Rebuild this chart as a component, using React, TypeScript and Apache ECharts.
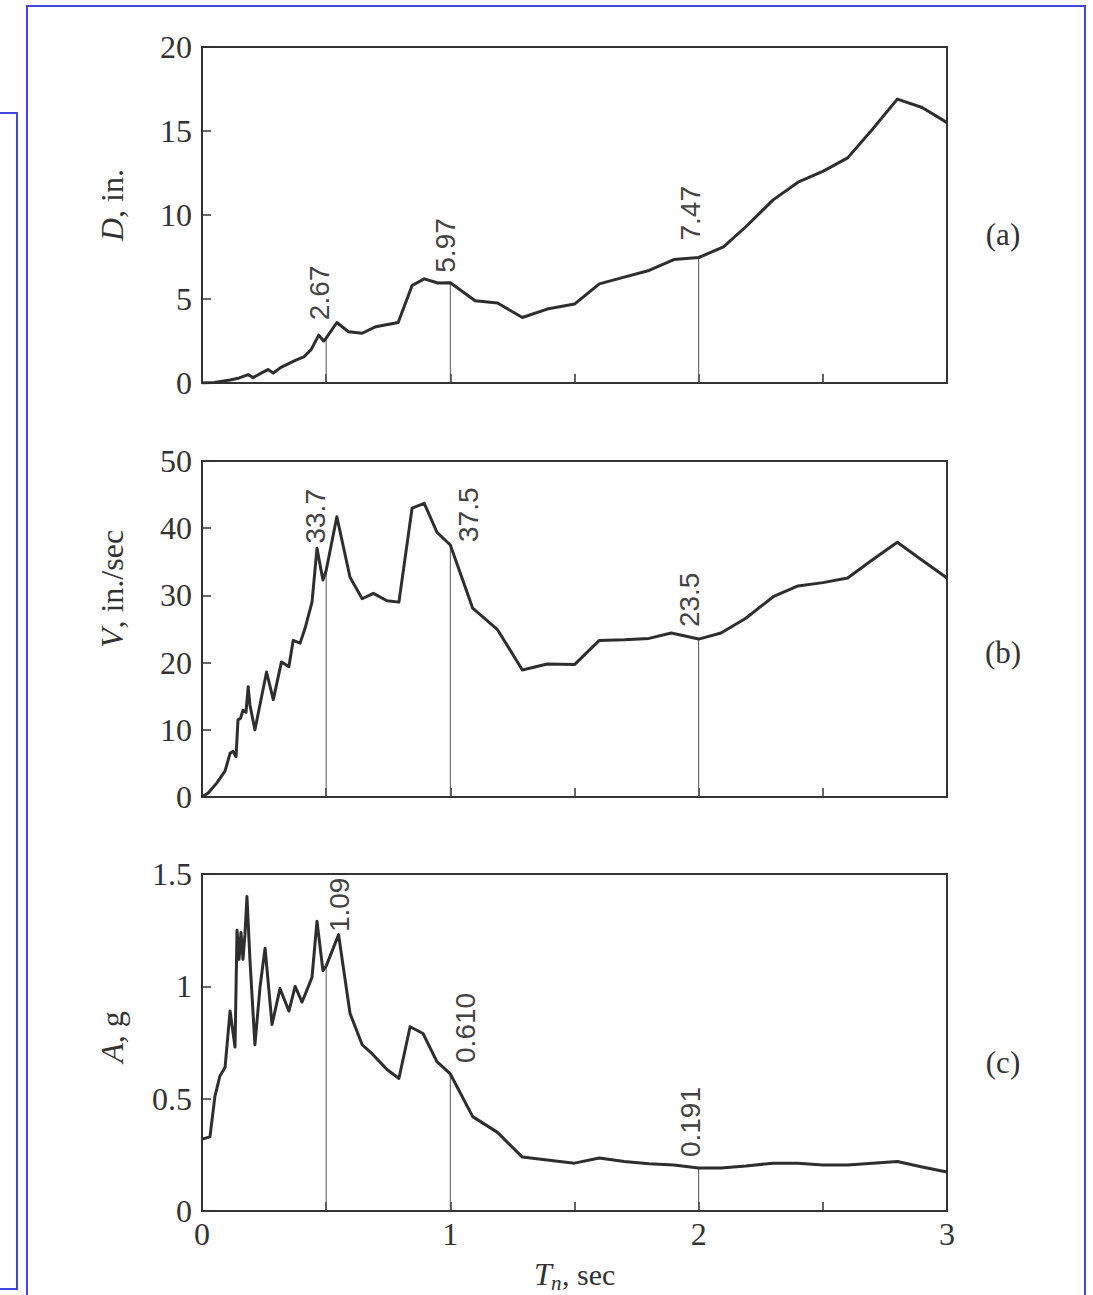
import React, { useEffect, useRef } from "react";
import * as echarts from "echarts";

// ---------- data ----------
const D_T = [0, 0.05, 0.113, 0.15, 0.186, 0.206, 0.24, 0.266, 0.287, 0.32, 0.355, 0.38, 0.41, 0.44, 0.47, 0.49, 0.5, 0.543, 0.59, 0.645, 0.7, 0.79, 0.846, 0.895, 0.95, 1.0, 1.1, 1.19, 1.29, 1.39, 1.5, 1.6, 1.7, 1.8, 1.9, 2.0, 2.1, 2.19, 2.3, 2.4, 2.5, 2.6, 2.7, 2.8, 2.9, 3.0];
const D_VAL = [0, 0.03, 0.18, 0.3, 0.5, 0.32, 0.6, 0.8, 0.6, 0.95, 1.2, 1.37, 1.55, 2.0, 2.85, 2.5, 2.67, 3.6, 3.05, 2.96, 3.35, 3.6, 5.8, 6.2, 5.95, 5.97, 4.9, 4.76, 3.9, 4.4, 4.7, 5.9, 6.3, 6.7, 7.35, 7.47, 8.1, 9.3, 10.9, 11.95, 12.6, 13.4, 15.1, 16.9, 16.4, 15.5];

const V_T = [0, 0.025, 0.06, 0.093, 0.113, 0.125, 0.137, 0.145, 0.155, 0.165, 0.177, 0.186, 0.193, 0.213, 0.26, 0.287, 0.32, 0.35, 0.367, 0.395, 0.415, 0.443, 0.463, 0.487, 0.5, 0.543, 0.596, 0.645, 0.69, 0.745, 0.793, 0.846, 0.895, 0.946, 1.0, 1.09, 1.19, 1.29, 1.39, 1.5, 1.6, 1.7, 1.8, 1.89, 2.0, 2.09, 2.19, 2.3, 2.4, 2.5, 2.6, 2.7, 2.8, 2.89, 3.0];
const V_VAL = [0, 0.6, 2.1, 3.9, 6.5, 6.8, 6.0, 11.5, 11.7, 12.9, 12.6, 16.4, 13.7, 10.0, 18.6, 14.5, 20.1, 19.4, 23.3, 22.9, 25.1, 29.0, 37.0, 32.3, 33.7, 41.7, 32.7, 29.5, 30.3, 29.2, 29.0, 43.0, 43.7, 39.4, 37.5, 28.1, 24.9, 18.9, 19.8, 19.7, 23.3, 23.4, 23.6, 24.4, 23.5, 24.4, 26.6, 29.8, 31.4, 31.9, 32.6, 35.3, 37.9, 35.5, 32.6];

const A_T = [0, 0.032, 0.052, 0.072, 0.093, 0.113, 0.133, 0.141, 0.149, 0.157, 0.165, 0.173, 0.181, 0.193, 0.213, 0.234, 0.254, 0.282, 0.314, 0.35, 0.375, 0.403, 0.443, 0.463, 0.487, 0.5, 0.55, 0.596, 0.645, 0.685, 0.745, 0.793, 0.838, 0.89, 0.946, 1.0, 1.09, 1.19, 1.29, 1.39, 1.5, 1.6, 1.7, 1.8, 1.9, 2.0, 2.09, 2.19, 2.3, 2.4, 2.5, 2.6, 2.7, 2.8, 2.9, 3.0];
const A_VAL = [0.32, 0.33, 0.51, 0.6, 0.64, 0.89, 0.73, 1.25, 1.12, 1.24, 1.12, 1.23, 1.4, 1.12, 0.74, 1.0, 1.17, 0.83, 0.99, 0.89, 1.0, 0.93, 1.04, 1.29, 1.07, 1.09, 1.23, 0.88, 0.74, 0.7, 0.63, 0.59, 0.82, 0.79, 0.665, 0.61, 0.42, 0.35, 0.24, 0.227, 0.213, 0.236, 0.22, 0.21, 0.205, 0.191, 0.191, 0.2, 0.213, 0.213, 0.205, 0.205, 0.213, 0.22, 0.196, 0.174];

const REF_T = [0.5, 1, 2];
const REF_D = [2.67, 5.97, 7.47];
const REF_V = [33.7, 37.5, 23.5];
const REF_A = [1.09, 0.61, 0.191];

const X_TICK_LABELS = [0, 1, 2, 3];
const D_AXIS = { max: 20, interval: 5 };
const V_AXIS = { max: 50, interval: 10 };
const A_AXIS = { max: 1.5, interval: 0.5 };

const PANEL_TAGS = ["(a)", "(b)", "(c)"];
const Y_NAMES = [
  { sym: "D", unit: ", in." },
  { sym: "V", unit: ", in./sec" },
  { sym: "A", unit: ", g" },
];

// ---------- layout / style ----------
const GRID_LEFT = 202;
const GRID_WIDTH = 745;
const GRID_TOPS = [47, 461, 874];
const GRID_HEIGHTS = [336, 336, 337];
const LABEL_OFFSETS = [
  [[-7, 18], [-5, 10], [-8, 17]],
  [[-11, 27], [18, 3], [-9, 12]],
  [[13, 34], [15, 11], [-8, 11]],
];
const Y_NAME_POS = [[112, 205], [112, 589], [112, 1037]];
const TAG_POS = [[1003, 234], [1003, 652], [1003, 1062]];
const SERIF = '"Liberation Serif", "Times New Roman", serif';
const SANS = '"Liberation Sans", Arial, sans-serif';
const INK = "#333";
const BLUE = "#4545e0";

export default function App() {
  const ref = useRef<HTMLDivElement>(null);

  useEffect(() => {
    document.body.style.margin = "0";
    const el = ref.current!;
    const chart = echarts.init(el, null, { renderer: "svg" });

    const panels = [
      { t: D_T, v: D_VAL, refs: REF_D, axis: D_AXIS },
      { t: V_T, v: V_VAL, refs: REF_V, axis: V_AXIS },
      { t: A_T, v: A_VAL, refs: REF_A, axis: A_AXIS },
    ];

    const grid = panels.map((_, i) => ({
      left: GRID_LEFT,
      top: GRID_TOPS[i],
      width: GRID_WIDTH,
      height: GRID_HEIGHTS[i],
      show: true,
      borderColor: INK,
      borderWidth: 2,
      backgroundColor: "transparent",
    }));

    const xAxis = panels.map((_, i) => ({
      type: "value",
      gridIndex: i,
      min: 0,
      max: 3,
      interval: 0.5,
      axisLine: { show: false },
      axisTick: { show: true, inside: true, length: 9, lineStyle: { color: INK, width: 1.5 } },
      splitLine: { show: false },
      axisLabel: {
        show: i === 2,
        formatter: (val: number) => (X_TICK_LABELS.includes(val) ? String(val) : ""),
        fontFamily: SERIF,
        fontSize: 32,
        color: INK,
        margin: 7,
      },
    }));

    const yAxis = panels.map((p, i) => ({
      type: "value",
      gridIndex: i,
      min: 0,
      max: p.axis.max,
      interval: p.axis.interval,
      axisLine: { show: false },
      axisTick: { show: true, inside: true, length: 9, lineStyle: { color: INK, width: 1.5 } },
      splitLine: { show: false },
      axisLabel: {
        formatter: (val: number) => String(val),
        fontFamily: SERIF,
        fontSize: 32,
        color: INK,
        margin: 10,
      },
    }));

    const series: any[] = [];
    panels.forEach((p, i) => {
      p.refs.forEach((r, k) => {
        series.push({
          type: "line",
          xAxisIndex: i,
          yAxisIndex: i,
          data: [[REF_T[k], 0], [REF_T[k], r]],
          symbol: "none",
          silent: true,
          lineStyle: { color: "#555", width: 1 },
          z: 2,
        });
      });
      series.push({
        type: "line",
        xAxisIndex: i,
        yAxisIndex: i,
        data: p.t.map((x, j) => [x, p.v[j]]),
        symbol: "none",
        silent: true,
        lineStyle: { color: "#2e2e2e", width: 3, join: "round" },
        z: 3,
      });
    });

    chart.setOption({
      animation: false,
      backgroundColor: "#fff",
      grid,
      xAxis,
      yAxis,
      series,
    });

    const graphic: any[] = [];
    // blue frames
    graphic.push({
      type: "polyline",
      shape: { points: [[27, 1300], [27, 6], [1085, 6], [1085, 1300]] },
      style: { stroke: BLUE, lineWidth: 2, fill: null },
      silent: true,
    });
    graphic.push({
      type: "polyline",
      shape: { points: [[-2, 113], [17, 113], [17, 1289], [-2, 1289]] },
      style: { stroke: BLUE, lineWidth: 2, fill: null },
      silent: true,
    });

    // value labels at the reference periods
    panels.forEach((p, i) => {
      p.refs.forEach((r, k) => {
        const pt = chart.convertToPixel({ gridIndex: i } as any, [REF_T[k], r]) as number[];
        const [dx, gap] = LABEL_OFFSETS[i][k];
        graphic.push({
          type: "text",
          x: pt[0] + dx,
          y: pt[1] - gap,
          rotation: Math.PI / 2,
          silent: true,
          style: {
            text: r.toPrecision(3),
            fontFamily: SANS,
            fontSize: 28,
            fill: "#444",
            align: "left",
            verticalAlign: "middle",
            textAlign: "left",
            textVerticalAlign: "middle",
          },
        });
      });
    });

    // y-axis names
    Y_NAMES.forEach((nm, i) => {
      graphic.push({
        type: "text",
        x: Y_NAME_POS[i][0],
        y: Y_NAME_POS[i][1],
        rotation: Math.PI / 2,
        silent: true,
        style: {
          text: `{i|${nm.sym}}{r|${nm.unit}}`,
          rich: {
            i: { fontFamily: SERIF, fontSize: 32, fontStyle: "italic", fill: INK },
            r: { fontFamily: SERIF, fontSize: 32, fill: INK },
          },
          fontFamily: SERIF,
          fontSize: 32,
          fill: INK,
          align: "center",
          verticalAlign: "middle",
          textAlign: "center",
          textVerticalAlign: "middle",
        },
      });
    });

    // panel tags
    PANEL_TAGS.forEach((tag, i) => {
      graphic.push({
        type: "text",
        x: TAG_POS[i][0],
        y: TAG_POS[i][1],
        silent: true,
        style: {
          text: tag,
          fontFamily: SERIF,
          fontSize: 31,
          fill: INK,
          align: "center",
          verticalAlign: "middle",
          textAlign: "center",
          textVerticalAlign: "middle",
        },
      });
    });

    // x-axis title: T_n, sec
    const tx = 534;
    const ty = 1274;
    graphic.push({
      type: "text",
      x: tx,
      y: ty,
      silent: true,
      style: { text: "T", fontFamily: SERIF, fontSize: 32, fontStyle: "italic", fill: INK, align: "left", verticalAlign: "middle", textAlign: "left", textVerticalAlign: "middle" },
    });
    graphic.push({
      type: "text",
      x: tx + 17,
      y: ty + 9,
      silent: true,
      style: { text: "n", fontFamily: SERIF, fontSize: 21, fontStyle: "italic", fill: INK, align: "left", verticalAlign: "middle", textAlign: "left", textVerticalAlign: "middle" },
    });
    graphic.push({
      type: "text",
      x: tx + 28,
      y: ty,
      silent: true,
      style: { text: ", sec", fontFamily: SERIF, fontSize: 30, fill: INK, align: "left", verticalAlign: "middle", textAlign: "left", textVerticalAlign: "middle" },
    });

    chart.setOption({ graphic });

    return () => {
      chart.dispose();
    };
  }, []);

  return <div ref={ref} style={{ width: 1093, height: 1295 }} />;
}
